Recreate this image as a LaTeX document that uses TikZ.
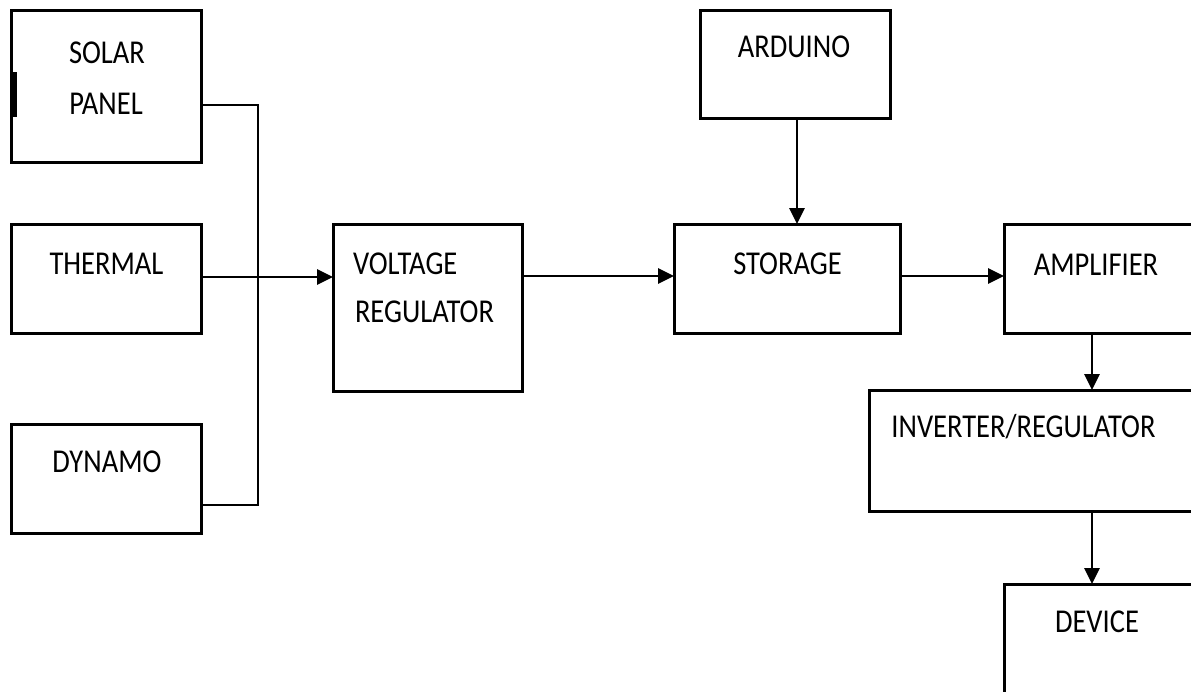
\documentclass[tikz,border=0pt]{standalone}
\usepackage{fontspec}
\setmainfont{Carlito}
\usetikzlibrary{arrows.meta}
\tikzset{
  box/.style={draw=black, line width=3pt, fill=none, inner sep=0pt, outer sep=0pt, rectangle},
  wire/.style={draw=black, line width=2.7pt},
  arr/.style={wire, -{Triangle[length=16pt,width=15pt]}},
  lbl/.style={inner sep=0pt, outer sep=0pt, font=\fontsize{28.5pt}{30pt}\selectfont, text=black},
}
\newcommand{\tall}[1]{\scalebox{1}[1.17]{#1}}
\begin{document}
\begin{tikzpicture}[x=1pt,y=-1pt]
\useasboundingbox (0,0) rectangle (1191,691);
\fill[white] (0,0) rectangle (1191,691);
% boxes
\node[box, minimum width=190pt, minimum height=152pt] (solar) at (106,86) {};
\node[box, minimum width=190pt, minimum height=109pt] (thermal) at (106,278.5) {};
\node[box, minimum width=190pt, minimum height=109pt] (dynamo) at (106,478.5) {};
\node[box, minimum width=189pt, minimum height=167pt] (vr) at (427.5,307.5) {};
\node[box, minimum width=190pt, minimum height=108pt] (arduino) at (795,64) {};
\node[box, minimum width=226pt, minimum height=109pt] (storage) at (787,278.5) {};
\node[box, minimum width=226pt, minimum height=109pt] (amp) at (1117,278.5) {};
\node[box, minimum width=431pt, minimum height=121pt] (inv) at (1084.5,450.5) {};
\node[box, minimum width=226pt, minimum height=140pt] (device) at (1117,654) {};
% mark on solar panel
\fill[black] (12,72) rectangle (16.5,117);
% labels
\node[lbl, anchor=base] (tsolar) at (107,63) {\tall{SOLAR}};
\node[lbl, anchor=base] (tpanel) at (106,114) {\tall{PANEL}};
\node[lbl, anchor=base] (ttherm) at (106.5,274) {\tall{THERMAL}};
\node[lbl, anchor=base] (tdyn) at (107,472) {\tall{DYNAMO}};
\node[lbl, anchor=base west] (tvolt) at (353,274) {\tall{VOLTAGE}};
\node[lbl, anchor=base west] (treg) at (355,322) {\tall{REGULATOR}};
\node[lbl, anchor=base] (tard) at (794,57) {\tall{ARDUINO}};
\node[lbl, anchor=base] (tsto) at (787.5,274) {\tall{STORAGE}};
\node[lbl, anchor=base] (tamp) at (1096,275) {\tall{AMPLIFIER}};
\node[lbl, anchor=base] (tinv) at (1023.5,437) {\tall{INVERTER/REGULATOR}};
\node[lbl, anchor=base] (tdev) at (1097,632) {\tall{DEVICE}};
% connectors
\coordinate (bustop) at (258,105);
\coordinate (busbot) at (258,505);
\coordinate (dx) at (1092,0);
\draw[wire] (solar.east |- bustop) -- (bustop) -- (busbot) -- (dynamo.east |- busbot);
\draw[arr] (thermal.east |- 0,277) -- (vr.west |- 0,277);
\draw[arr] (vr.east |- 0,276) -- (storage.west |- 0,276);
\draw[arr] (arduino.south -| 797,0) -- (storage.north -| 797,0);
\draw[arr] (storage.east |- 0,276) -- (amp.west |- 0,276);
\draw[arr] (amp.south -| dx) -- (inv.north -| dx);
\draw[arr] (inv.south -| dx) -- (device.north -| dx);
\end{tikzpicture}
\end{document}
